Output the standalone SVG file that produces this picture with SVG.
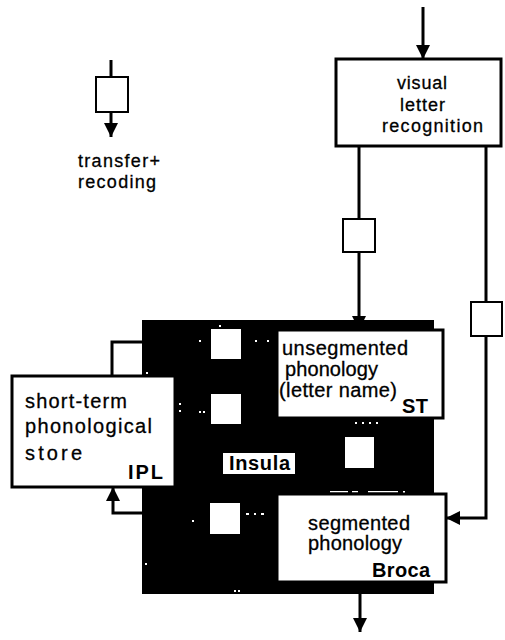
<svg xmlns="http://www.w3.org/2000/svg" width="505" height="640" viewBox="0 0 505 640">
<defs>
<marker id="ah" markerUnits="userSpaceOnUse" markerWidth="14" markerHeight="16" viewBox="0 0 14 16" refX="14" refY="8" orient="auto">
<path d="M0,1 L14,8 L0,15 Z" fill="#000"/>
</marker>
<style>
.ln{fill:none;stroke:#000;stroke-width:3}
.bx{fill:#fff;stroke:#000;stroke-width:3}
.sq{fill:#fff;stroke:#000;stroke-width:2}
.wsq{fill:#fff}
.t{font-family:"Liberation Sans",Arial,sans-serif;font-size:20px;fill:#000;stroke:#000;stroke-width:0.3}
.s{font-size:18px}
.b{font-family:"Liberation Sans",Arial,sans-serif;font-size:20px;font-weight:bold;fill:#000}
.dot{fill:#fff}
</style>
</defs>
<rect width="505" height="640" fill="#fff"/>

<g id="insula-region">
<rect x="142" y="320" width="292" height="274" fill="#000"/>
<rect class="wsq" x="211" y="329" width="30" height="30"/>
<rect class="wsq" x="211" y="394" width="30" height="30"/>
<rect class="wsq" x="210" y="503" width="30" height="31"/>
<rect class="wsq" x="345" y="437" width="29" height="31"/>
<g class="dot">
<rect x="219" y="325" width="2" height="2"/>
<rect x="199" y="340" width="2" height="2"/>
<rect x="255" y="340" width="2" height="2"/>
<rect x="267" y="340" width="2" height="2"/>
<rect x="146" y="372" width="2" height="2"/>
<rect x="179" y="403" width="2" height="2"/>
<rect x="179" y="410" width="2" height="2"/>
<rect x="199" y="411" width="2" height="2"/>
<rect x="203" y="411" width="2" height="2"/>
<rect x="192" y="520" width="2" height="2"/>
<rect x="246" y="513" width="3" height="2"/>
<rect x="254" y="513" width="2" height="2"/>
<rect x="261" y="513" width="3" height="2"/>
<rect x="145" y="563" width="2" height="2"/>
<rect x="234" y="590" width="2" height="2"/>
<rect x="238" y="590" width="2" height="2"/>
<rect x="355" y="422" width="2" height="2"/>
<rect x="362" y="422" width="2" height="2"/>
<rect x="369" y="422" width="2" height="2"/>
<rect x="376" y="422" width="2" height="2"/>
<rect x="330" y="491" width="18" height="1.5"/>
<rect x="352" y="491" width="6" height="1.5"/>
<rect x="368" y="491" width="30" height="1.5"/>
<rect x="403" y="491" width="2" height="2"/>
</g>
<rect x="223" y="453" width="72" height="21" fill="#fff"/>
<text class="b" x="229" y="470" textLength="61">Insula</text>
</g>

<g id="connectors">
<line class="ln" x1="423" y1="7" x2="423" y2="59" marker-end="url(#ah)"/>
<line class="ln" x1="359" y1="146" x2="359" y2="330" marker-end="url(#ah)"/>
<polyline class="ln" points="486,146 486,518 446,518" marker-end="url(#ah)"/>
<line class="ln" x1="360" y1="582" x2="360" y2="632" marker-end="url(#ah)"/>
<polyline class="ln" points="143,342 112,342 112,376"/>
<polyline class="ln" points="143,513 113,513 113,487" marker-end="url(#ah)"/>
<rect class="sq" x="343" y="219" width="32" height="33"/>
<rect class="sq" x="471" y="302" width="31" height="34"/>
</g>

<g id="legend">
<line class="ln" x1="111" y1="60" x2="111" y2="77"/>
<rect class="sq" x="96" y="77" width="32" height="35"/>
<line class="ln" x1="111" y1="112" x2="111" y2="137" marker-end="url(#ah)"/>
<text class="t s" x="78" y="167" textLength="82">transfer+</text>
<text class="t s" x="78" y="188" textLength="78">recoding</text>
</g>

<g id="visual-letter-recognition">
<rect class="bx" x="336" y="59" width="165" height="87"/>
<text class="t s" x="397" y="89" textLength="50">visual</text>
<text class="t s" x="400" y="111" textLength="45">letter</text>
<text class="t s" x="382" y="132" textLength="101">recognition</text>
</g>

<g id="unsegmented-phonology">
<rect class="bx" x="277" y="330" width="166" height="88" stroke-width="2.5"/>
<text class="t" x="282" y="355" textLength="126">unsegmented</text>
<text class="t" x="285" y="376" textLength="93">phonology</text>
<text class="t" x="279" y="397" textLength="118">(letter name)</text>
<text class="b" x="402" y="413" textLength="26">ST</text>
</g>

<g id="short-term-store">
<rect class="bx" x="12" y="376" width="163" height="111"/>
<text class="t" x="25" y="408" textLength="102">short-term</text>
<text class="t" x="25" y="433" textLength="127">phonological</text>
<text class="t" x="25" y="460" textLength="57">store</text>
<text class="b" x="128" y="479" textLength="35">IPL</text>
</g>

<g id="segmented-phonology">
<rect class="bx" x="277" y="494" width="169" height="88" stroke-width="2.5"/>
<text class="t" x="308" y="530" textLength="102">segmented</text>
<text class="t" x="308" y="550" textLength="94">phonology</text>
<text class="b" x="372" y="577" textLength="58">Broca</text>
</g>
</svg>
